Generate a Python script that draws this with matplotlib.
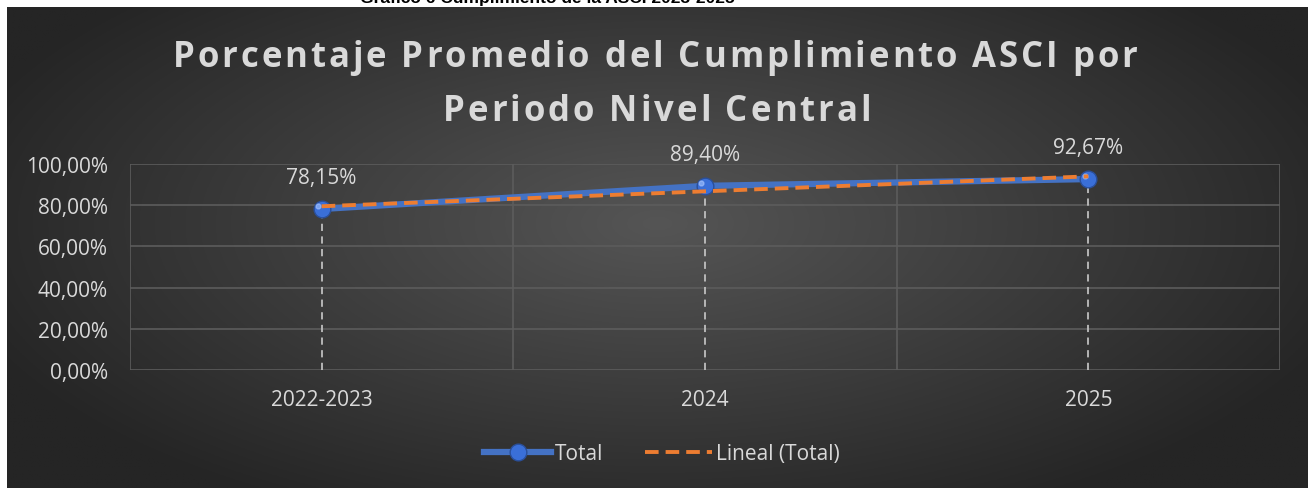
import numpy as np
import matplotlib
matplotlib.use("Agg")
import matplotlib.pyplot as plt
from matplotlib.lines import Line2D
from matplotlib.font_manager import FontProperties, findfont
from matplotlib.ft2font import FT2Font

plt.rcParams["font.family"] = ["Open Sans", "DejaVu Sans"]

# data
periods = ["2022-2023", "2024", "2025"]
total = [78.15, 89.40, 92.67]
labels = ["78,15%", "89,40%", "92,67%"]

W, H = 1308, 489
BLUE = "#4472C4"; ORANGE = "#ED7D31"; TXT = "#d9d9d9"; GRID = "#5c5c5c"
FS = 15

fig = plt.figure(figsize=(W / 100, H / 100), dpi=100)
fig.patch.set_facecolor("white")

# dark radial-gradient chart background
bg = fig.add_axes([7 / W, 0, (W - 7) / W, (H - 8) / H])
yy, xx = np.mgrid[0:1:300j, 0:1:800j]
r = np.sqrt(((xx - 0.5) / 0.75) ** 2 + ((yy - 0.45) / 0.9) ** 2)
lo, hi = np.array([0x25, 0x25, 0x25]) / 255, np.array([0x55, 0x55, 0x55]) / 255
t = np.clip(r / 0.75, 0, 1)[..., None]
bg.imshow(hi * (1 - t) + lo * t, aspect="auto", extent=(0, 1, 0, 1))
bg.axis("off")

# caption above the chart, cut off by the top edge as in the original
fig.text(0.5 * (355 + 740) / W, 1 + 2 / H, "Gráfico 6 Cumplimiento de la ASCI 2023-2025",
         ha="center", va="center", fontsize=12.5, fontweight="bold", color="black",
         family=["Liberation Sans", "DejaVu Sans"])

TPROP = FontProperties(family="Open Sans", weight="bold", size=25)


def advances(s, prop):
    f = FT2Font(findfont(prop))
    f.set_size(prop.get_size_in_points(), 100)
    return [f.load_char(ord(c)).linearHoriAdvance / 65536 for c in s]


def spaced_text(s, xc, ybase, gap):
    # letter-spaced title line, glyph by glyph (pixels)
    ws = advances(s, TPROP)
    x0 = xc - (sum(ws) + gap * (len(s) - 1)) / 2
    for c, w in zip(s, ws):
        fig.text(x0 / W, 1 - ybase / H, c, fontproperties=TPROP, color=TXT,
                 ha="left", va="baseline")
        x0 += w + gap


ax = fig.add_axes([130 / W, 1 - 371 / H, 1150 / W, 206 / H])
ax.patch.set_alpha(0)
x = np.arange(len(periods))
ax.set_xlim(-0.5, len(periods) - 0.5)
ax.set_ylim(0, 100)
ax.set_yticks(np.arange(0, 101, 20))
ax.set_yticklabels([f"{v:.2f}%".replace(".", ",") for v in np.arange(0, 101, 20)])
ax.set_xticks(x)
ax.set_xticklabels(periods)
for v in np.arange(0, 101, 20):
    ax.axhline(v, color=GRID, lw=1.2, zorder=1)
for v in np.arange(-0.5, len(periods), 1):
    ax.axvline(v, color=GRID, lw=1.2, zorder=1)
for s in ax.spines.values():
    s.set_visible(False)
ax.tick_params(length=0, colors=TXT, labelsize=FS)
ax.tick_params(axis="y", pad=16)
ax.tick_params(axis="x", pad=14)

# drop lines
ax.vlines(x, 0, total, colors="#bfbfbf", linestyles=(0, (4, 3)), lw=1.3, zorder=2)

ax.plot(x, total, color=BLUE, lw=4.5, solid_capstyle="round", zorder=3)
ax.plot(x, total, "o", ms=12, mfc="#3a6fd8", mec="#2a4f9a", mew=1, zorder=4)
ax.plot(x - 0.01, np.array(total) + 1.5, "o", ms=3.5, color="#a8c6ff", alpha=0.6, zorder=5)

coef = np.polyfit(x, total, 1)
ax.plot(x, np.polyval(coef, x), color=ORANGE, lw=2.8, ls=(0, (3.5, 1.8)), zorder=6)

for xi, yi, lb in zip(x, total, labels):
    ax.annotate(lb, (xi, yi), xytext=(0, 15), textcoords="offset points",
                ha="center", va="bottom", color=TXT, fontsize=FS)

line1 = "Porcentaje Promedio del Cumplimiento ASCI por"
line2 = "Periodo Nivel Central"
gap = (965 - sum(advances(line1, TPROP))) / (len(line1) - 1)
spaced_text(line1, 655, 67, gap)
spaced_text(line2, 657, 121, gap)

handles = [Line2D([], [], color=BLUE, lw=4.5, marker="o", ms=12, mfc="#3a6fd8", mec="#2a4f9a"),
           Line2D([], [], color=ORANGE, lw=2.8, ls=(0, (3.5, 1.8)))]
leg = fig.legend(handles, ["Total", "Lineal (Total)"], loc="center",
                 bbox_to_anchor=(662 / W, 1 - 455 / H), ncol=2, frameon=False,
                 fontsize=FS, handlelength=3.2, columnspacing=2.0, handletextpad=0.2)
for tx in leg.get_texts():
    tx.set_color(TXT)

fig.savefig("out.png", dpi=100)
